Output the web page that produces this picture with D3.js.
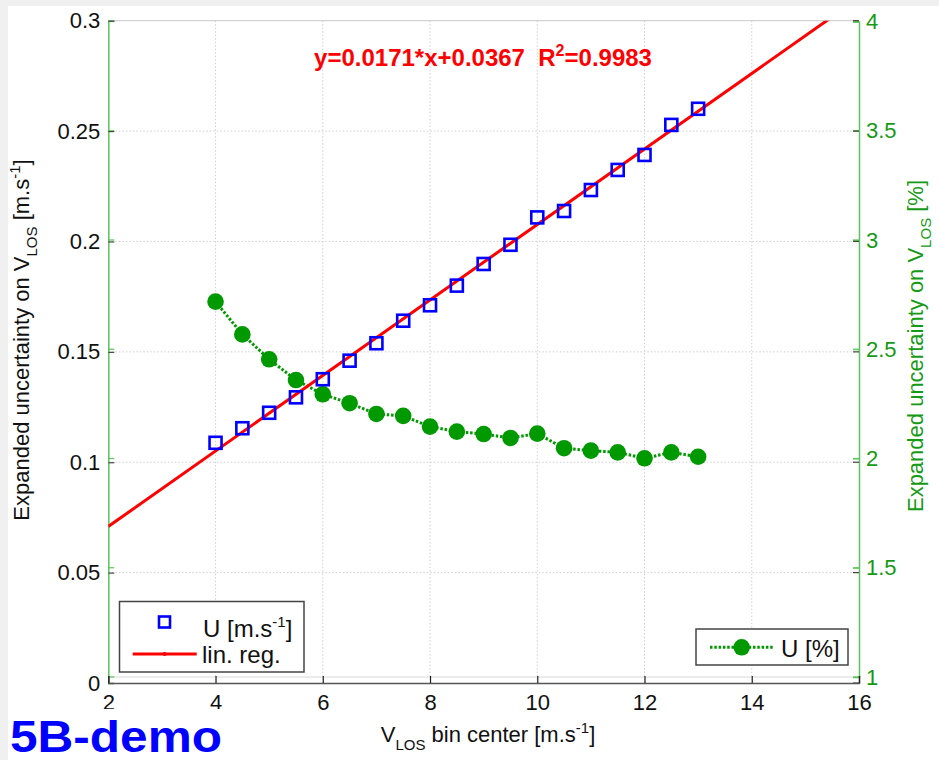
<!DOCTYPE html>
<html lang="en">
<head>
<meta charset="utf-8">
<title>Expanded uncertainty on VLOS</title>
<script src="https://d3js.org/d3.v7.min.js"></script>
<style>
  body { margin: 0; background: #f0f0f0; }
  text { font-family: "Liberation Sans", Arial, sans-serif; }
</style>
</head>
<body>
<div id="chart"></div>
<script>
// bin centres and the two measured series
const binCenters = [4, 4.5, 5, 5.5, 6, 6.5, 7, 7.5, 8, 8.5, 9, 9.5, 10, 10.5, 11, 11.5, 12, 12.5, 13];
const uAbs = [0.1088, 0.1154, 0.1224, 0.1294, 0.1376, 0.1460, 0.1539, 0.1641, 0.1711, 0.1800,
              0.1898, 0.1985, 0.2109, 0.2138, 0.2233, 0.2324, 0.2392, 0.2528, 0.2601];
const uPct = [2.718, 2.568, 2.454, 2.359, 2.294, 2.253, 2.204, 2.195, 2.146, 2.123,
              2.112, 2.094, 2.114, 2.047, 2.036, 2.028, 2.001, 2.028, 2.008];
const regSlope = 0.0171, regIntercept = 0.0367;
const regRange = [2, 16];

const xTicks = [2, 4, 6, 8, 10, 12, 14, 16];
const yLeftTicks = [0, 0.05, 0.1, 0.15, 0.2, 0.25, 0.3];
const yRightTicks = [1, 1.5, 2, 2.5, 3, 3.5, 4];

const W = 939, H = 760;
const pLeft = 108.3, pRight = 859, pTop = 20.7, pBottom = 683;
const green = "#009900", greenTxt = "#169a16", greenAxis = "#5cc45c";

const svg = d3.select("#chart").append("svg")
  .attr("width", W).attr("height", H);

svg.append("rect").attr("width", W).attr("height", H).attr("fill", "#f0f0f0");
svg.append("rect").attr("x", 8).attr("y", 6).attr("width", W - 8).attr("height", H - 6).attr("fill", "#fff");

const x = d3.scaleLinear().domain([2, 16]).range([pLeft, pRight]);
const yL = d3.scaleLinear().domain([0, 0.3]).range([pBottom, pTop]);
const yR = d3.scaleLinear().domain([1, 4]).range([677, 21.5]);

// grid
const grid = svg.append("g").attr("stroke", "#cfcfcf").attr("stroke-width", 1).attr("stroke-dasharray", "1.5,2");
grid.selectAll(".gx").data(xTicks.slice(1, -1)).join("line")
  .attr("x1", d => x(d)).attr("x2", d => x(d)).attr("y1", pTop).attr("y2", pBottom);
grid.selectAll(".gy").data(yLeftTicks.slice(1, -1)).join("line")
  .attr("x1", pLeft).attr("x2", pRight).attr("y1", d => yL(d)).attr("y2", d => yL(d));

// frame
svg.append("line").attr("x1", pLeft).attr("x2", pRight).attr("y1", pTop).attr("y2", pTop).attr("stroke", "#c8c8c8");
svg.append("line").attr("x1", pLeft).attr("x2", pRight).attr("y1", 677).attr("y2", 677).attr("stroke", "#d8d8d8");

// green ticks of the right axes, mirrored on both sides
const gt = svg.append("g").attr("stroke", greenAxis).attr("stroke-width", 1.2);
gt.selectAll(".l").data(yRightTicks).join("line")
  .attr("x1", pLeft).attr("x2", pLeft + 6).attr("y1", d => yR(d)).attr("y2", d => yR(d));
gt.selectAll(".r").data(yRightTicks).join("line")
  .attr("x1", pRight).attr("x2", pRight - 6).attr("y1", d => yR(d)).attr("y2", d => yR(d));

// left axis
const axL = svg.append("g").attr("transform", `translate(${pLeft},0)`)
  .call(d3.axisLeft(yL).tickValues(yLeftTicks).tickFormat(d => String(d)).tickSize(-6).tickPadding(8));
axL.select(".domain").attr("stroke", greenAxis).attr("stroke-width", 1.5);
axL.selectAll(".tick line").attr("stroke", "#444").attr("stroke-width", 1.2);
axL.selectAll(".tick text").attr("font-size", 22).attr("fill", "#111")
  .attr("font-family", "Liberation Sans, Arial, sans-serif");

// right axis
const axR = svg.append("g").attr("transform", `translate(${pRight},0)`)
  .call(d3.axisRight(yR).tickValues(yRightTicks).tickFormat(d => String(d)).tickSize(-6).tickPadding(7));
axR.select(".domain").attr("stroke", greenAxis).attr("stroke-width", 1.5);
axR.selectAll(".tick line").attr("stroke", greenAxis);
axR.selectAll(".tick text").attr("font-size", 22).attr("fill", greenTxt)
  .attr("font-family", "Liberation Sans, Arial, sans-serif");
// dark ticks of the left axes on the right side
svg.append("g").selectAll("line").data(yLeftTicks).join("line")
  .attr("x1", pRight).attr("x2", pRight - 6).attr("y1", d => yL(d)).attr("y2", d => yL(d))
  .attr("stroke", "#444").attr("stroke-width", 1.2);

// bottom axis
const axB = svg.append("g").attr("transform", `translate(0,${pBottom})`)
  .call(d3.axisBottom(x).tickValues(xTicks).tickFormat(d => String(d)).tickSize(-7).tickPadding(11));
axB.select(".domain").attr("stroke", "#555").attr("stroke-width", 1.5);
axB.selectAll(".tick line").attr("stroke", "#222").attr("stroke-width", 1.2);
axB.selectAll(".tick text").attr("font-size", 22).attr("fill", "#111")
  .attr("font-family", "Liberation Sans, Arial, sans-serif");

// clip for the regression line
svg.append("clipPath").attr("id", "plotclip").append("rect")
  .attr("x", pLeft).attr("y", pTop).attr("width", pRight - pLeft).attr("height", pBottom - pTop);

// U [%] dotted line + circles
const pctData = binCenters.map((b, i) => [b, uPct[i]]);
svg.append("path").datum(pctData)
  .attr("d", d3.line().x(d => x(d[0])).y(d => yR(d[1])))
  .attr("fill", "none").attr("stroke", green).attr("stroke-width", 3).attr("stroke-dasharray", "2.5,1.8");
svg.append("g").selectAll("circle").data(pctData).join("circle")
  .attr("cx", d => x(d[0])).attr("cy", d => yR(d[1])).attr("r", 8.3).attr("fill", green);

// regression line
svg.append("path").datum(regRange)
  .attr("clip-path", "url(#plotclip)")
  .attr("d", d3.line().x(d => x(d)).y(d => yL(regSlope * d + regIntercept)))
  .attr("fill", "none").attr("stroke", "#ff0000").attr("stroke-width", 3);

// U [m/s] squares
const sq = 12;
svg.append("g").selectAll("rect").data(binCenters.map((b, i) => [b, uAbs[i]])).join("rect")
  .attr("x", d => x(d[0]) - sq / 2).attr("y", d => yL(d[1]) - sq / 2)
  .attr("width", sq).attr("height", sq)
  .attr("fill", "none").attr("stroke", "#0000ff").attr("stroke-width", 2.6);

// regression equation
const eq = svg.append("text").attr("x", 483).attr("y", 66).attr("text-anchor", "middle")
  .attr("font-size", 24).attr("font-weight", "bold").attr("fill", "#ff0000")
  .attr("xml:space", "preserve");
eq.append("tspan").text("y=0.0171*x+0.0367  R");
eq.append("tspan").attr("font-size", 16).attr("dy", -10).text("2");
eq.append("tspan").attr("dy", 10).text("=0.9983");

// helper for "V_LOS ..." labels
function vlosLabel(sel, before, after, sup) {
  sel.append("tspan").text(before + "V");
  sel.append("tspan").attr("font-size", 15).attr("dy", 8).text("LOS");
  sel.append("tspan").attr("dy", -8).text(after);
  if (sup) {
    sel.append("tspan").attr("font-size", 15).attr("dy", -9).text("-1");
    sel.append("tspan").attr("dy", 9).text("]");
  }
}

const xl = svg.append("text").attr("x", 488).attr("y", 742).attr("text-anchor", "middle")
  .attr("font-size", 22).attr("fill", "#111");
vlosLabel(xl, "", " bin center [m.s", true);

const yl = svg.append("text").attr("transform", "translate(29,340) rotate(-90)")
  .attr("text-anchor", "middle").attr("font-size", 22).attr("fill", "#111");
vlosLabel(yl, "Expanded uncertainty on ", " [m.s", true);

const yr = svg.append("text").attr("transform", "translate(923,346) rotate(-90)")
  .attr("text-anchor", "middle").attr("font-size", 22).attr("fill", greenTxt);
vlosLabel(yr, "Expanded uncertainty on ", " [%]", false);

// legend 1
const lg1 = svg.append("g");
lg1.append("rect").attr("x", 119.5).attr("y", 601.5).attr("width", 184.5).attr("height", 70.5)
  .attr("fill", "#fff").attr("stroke", "#444").attr("stroke-width", 1.5);
lg1.append("rect").attr("x", 164.5 - 5.5).attr("y", 622 - 5.5).attr("width", 11).attr("height", 11)
  .attr("fill", "none").attr("stroke", "#0000ff").attr("stroke-width", 2.6);
const t1 = lg1.append("text").attr("x", 203).attr("y", 637).attr("font-size", 24).attr("fill", "#111");
t1.append("tspan").text("U [m.s");
t1.append("tspan").attr("font-size", 15).attr("dy", -10).text("-1");
t1.append("tspan").attr("dy", 10).text("]");
lg1.append("line").attr("x1", 132.7).attr("x2", 196.7).attr("y1", 654).attr("y2", 654)
  .attr("stroke", "#ff0000").attr("stroke-width", 3);
lg1.append("circle").attr("cx", 164.7).attr("cy", 654).attr("r", 2).attr("fill", "#ff0000");
lg1.append("text").attr("x", 202).attr("y", 663).attr("font-size", 24).attr("fill", "#111").text("lin. reg.");

// legend 2
const lg2 = svg.append("g");
lg2.append("rect").attr("x", 696).attr("y", 629).attr("width", 152).attr("height", 36)
  .attr("fill", "#fff").attr("stroke", "#444").attr("stroke-width", 1.5);
lg2.append("line").attr("x1", 710).attr("x2", 773.5).attr("y1", 647.3).attr("y2", 647.3)
  .attr("stroke", green).attr("stroke-width", 3).attr("stroke-dasharray", "2.5,1.8");
lg2.append("circle").attr("cx", 741.7).attr("cy", 647.3).attr("r", 8.3).attr("fill", green);
lg2.append("text").attr("x", 781).attr("y", 657).attr("font-size", 24).attr("fill", "#111").text("U [%]");

// watermark (its white box hides the lower part of the "2" tick label, as in the original)
svg.append("rect").attr("x", 8).attr("y", 709).attr("width", 222).attr("height", 51).attr("fill", "#fff");
svg.append("text").attr("x", 10).attr("y", 752).attr("font-size", 44).attr("font-weight", "bold")
  .attr("fill", "#0000ff").attr("textLength", 212).attr("lengthAdjust", "spacingAndGlyphs")
  .text("5B-demo");
</script>
</body>
</html>
